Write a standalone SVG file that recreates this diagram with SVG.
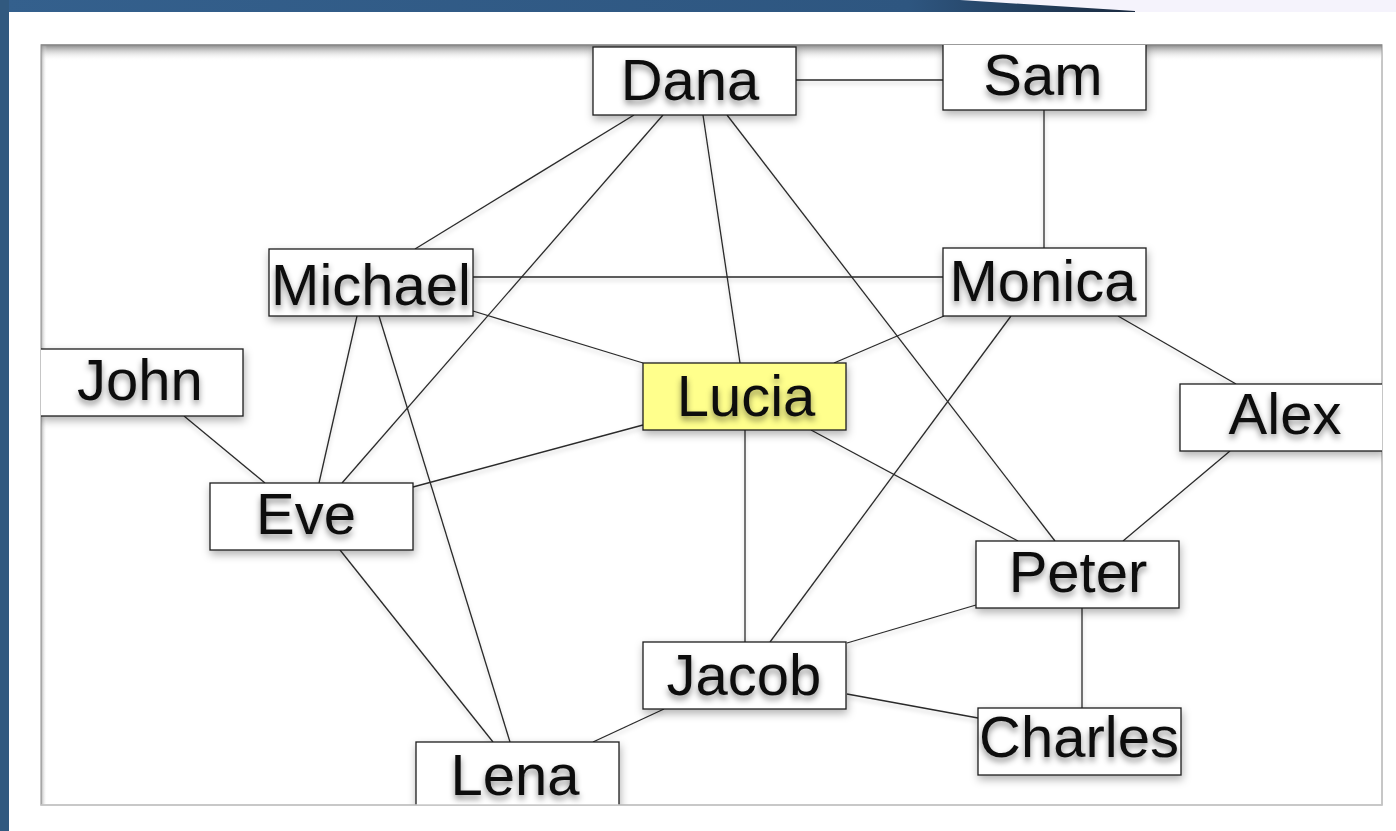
<svg xmlns="http://www.w3.org/2000/svg" width="1396" height="831" viewBox="0 0 1396 831">
<defs>
<style>
.box{fill:#ffffff;stroke:#1e1e1e;stroke-width:1.3}
.hl{fill:#ffff8c}
.lbl{font-family:"Liberation Sans",Arial,sans-serif;font-size:58px;fill:#111;text-anchor:middle}
.ln{stroke:#2a2a2a;stroke-width:1.3;fill:none}
</style>
<filter id="bsh" x="-20%" y="-30%" width="140%" height="170%">
<feDropShadow dx="1" dy="4" stdDeviation="4" flood-color="#000" flood-opacity="0.3"/>
</filter>
<filter id="tsh" x="-20%" y="-30%" width="140%" height="170%">
<feDropShadow dx="0" dy="4" stdDeviation="3" flood-color="#000" flood-opacity="0.45"/>
</filter>
<filter id="lsh" x="-10%" y="-10%" width="120%" height="120%">
<feDropShadow dx="0" dy="3" stdDeviation="2" flood-color="#000" flood-opacity="0.2"/>
</filter>
<linearGradient id="topbar" x1="0" y1="0" x2="1" y2="0">
<stop offset="0" stop-color="#34608d"/>
<stop offset="0.8" stop-color="#2e5680"/>
<stop offset="1" stop-color="#1a2a40"/>
</linearGradient>
<linearGradient id="topsh" x1="0" y1="0" x2="0" y2="1">
<stop offset="0" stop-color="#7a7a7a" stop-opacity="0.9"/>
<stop offset="1" stop-color="#ffffff" stop-opacity="0"/>
</linearGradient>
<linearGradient id="leftsh" x1="0" y1="0" x2="1" y2="0">
<stop offset="0" stop-color="#8a8a8a" stop-opacity="0.7"/>
<stop offset="1" stop-color="#ffffff" stop-opacity="0"/>
</linearGradient>
<clipPath id="panelclip"><rect x="41" y="45" width="1341" height="760"/></clipPath>
</defs>

<!-- frame -->
<rect x="0" y="0" width="1396" height="831" fill="#ffffff"/>
<rect x="0" y="0" width="1396" height="12" fill="#f5f3fc"/>
<polygon points="0,0 960,0 1135,11 1135,12 0,12" fill="url(#topbar)"/>
<rect x="0" y="0" width="9" height="831" fill="#31597f"/>

<!-- panel -->
<rect x="41" y="45" width="1341" height="760" fill="#ffffff" stroke="#b4b4b4" stroke-width="1.5"/>
<rect x="41" y="45" width="1341" height="16" fill="url(#topsh)"/>
<rect x="41" y="45" width="6" height="760" fill="url(#leftsh)"/>
<line x1="41" y1="45" x2="1382" y2="45" stroke="#8c8c8c" stroke-width="1.5"/>

<g clip-path="url(#panelclip)">
<g id="connectors" filter="url(#lsh)">
<line class="ln" x1="796" y1="80" x2="943" y2="80"/>
<line class="ln" x1="1044" y1="110" x2="1044" y2="248"/>
<line class="ln" x1="473" y1="277" x2="943" y2="277"/>
<line class="ln" x1="634" y1="115" x2="415" y2="249"/>
<line class="ln" x1="663" y1="115" x2="342" y2="483"/>
<line class="ln" x1="703" y1="115" x2="740" y2="363"/>
<line class="ln" x1="727" y1="115" x2="1055" y2="541"/>
<line class="ln" x1="357" y1="316" x2="319" y2="483"/>
<line class="ln" x1="379" y1="316" x2="510" y2="742"/>
<line class="ln" x1="473" y1="311" x2="643" y2="363"/>
<line class="ln" x1="184" y1="416" x2="265" y2="483"/>
<line class="ln" x1="413" y1="487" x2="643" y2="425"/>
<line class="ln" x1="340" y1="550" x2="493" y2="742"/>
<line class="ln" x1="944" y1="316" x2="834" y2="363"/>
<line class="ln" x1="1011" y1="316" x2="770" y2="642"/>
<line class="ln" x1="1118" y1="316" x2="1236" y2="384"/>
<line class="ln" x1="811" y1="430" x2="1018" y2="541"/>
<line class="ln" x1="745" y1="430" x2="745" y2="642"/>
<line class="ln" x1="1230" y1="451" x2="1123" y2="541"/>
<line class="ln" x1="976" y1="605" x2="847" y2="643"/>
<line class="ln" x1="1082" y1="608" x2="1082" y2="708"/>
<line class="ln" x1="847" y1="694" x2="978" y2="718"/>
<line class="ln" x1="664" y1="709" x2="593" y2="742"/>
</g>

<g id="node-dana">
<rect class="box" x="593" y="47" width="203" height="68" filter="url(#bsh)"/>
<text class="lbl" x="690" y="100" filter="url(#tsh)">Dana</text>
</g>
<g id="node-sam">
<rect class="box" x="943" y="44" width="203" height="66" filter="url(#bsh)"/>
<text class="lbl" x="1043" y="95" filter="url(#tsh)">Sam</text>
</g>
<g id="node-michael">
<rect class="box" x="269" y="249" width="204" height="67" filter="url(#bsh)"/>
<text class="lbl" x="371" y="305" filter="url(#tsh)">Michael</text>
</g>
<g id="node-monica">
<rect class="box" x="943" y="248" width="203" height="68" filter="url(#bsh)"/>
<text class="lbl" x="1043" y="301" filter="url(#tsh)">Monica</text>
</g>
<g id="node-john">
<rect class="box" x="40" y="349" width="203" height="67" filter="url(#bsh)"/>
<text class="lbl" x="140" y="400" filter="url(#tsh)">John</text>
</g>
<g id="node-lucia">
<rect class="box hl" x="643" y="363" width="203" height="67" filter="url(#bsh)"/>
<text class="lbl" x="746" y="416" filter="url(#tsh)">Lucia</text>
</g>
<g id="node-alex">
<rect class="box" x="1180" y="384" width="204" height="67" filter="url(#bsh)"/>
<text class="lbl" x="1285" y="434" filter="url(#tsh)">Alex</text>
</g>
<g id="node-eve">
<rect class="box" x="210" y="483" width="203" height="67" filter="url(#bsh)"/>
<text class="lbl" x="306" y="534" filter="url(#tsh)">Eve</text>
</g>
<g id="node-peter">
<rect class="box" x="976" y="541" width="203" height="67" filter="url(#bsh)"/>
<text class="lbl" x="1078" y="592" filter="url(#tsh)">Peter</text>
</g>
<g id="node-jacob">
<rect class="box" x="643" y="642" width="203" height="67" filter="url(#bsh)"/>
<text class="lbl" x="744" y="695" filter="url(#tsh)">Jacob</text>
</g>
<g id="node-charles">
<rect class="box" x="978" y="708" width="203" height="67" filter="url(#bsh)"/>
<text class="lbl" x="1079" y="757" filter="url(#tsh)">Charles</text>
</g>
<g id="node-lena">
<rect class="box" x="416" y="742" width="203" height="80" filter="url(#bsh)"/>
<text class="lbl" x="515" y="795" filter="url(#tsh)">Lena</text>
</g>
</g>
<line x1="41" y1="805" x2="1382" y2="805" stroke="#c8c8c8" stroke-width="1.5"/>
</svg>
